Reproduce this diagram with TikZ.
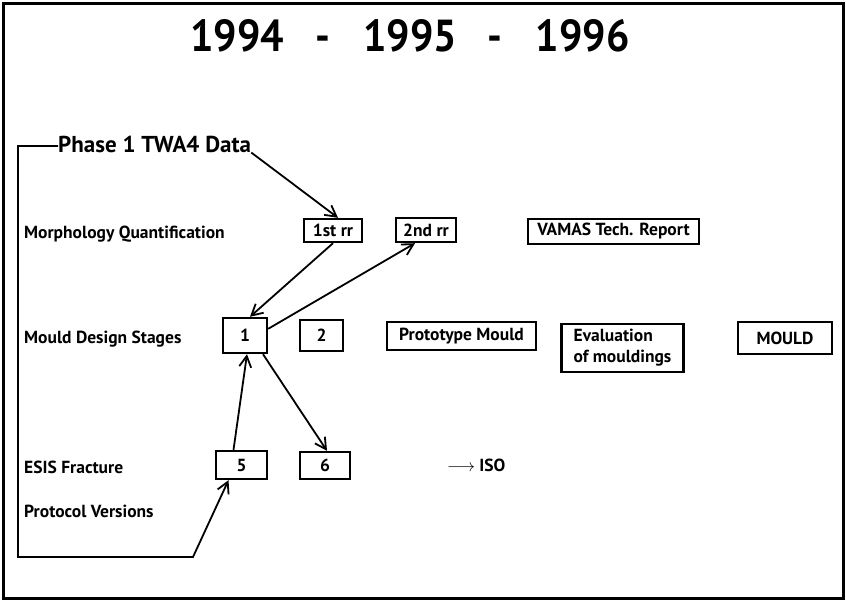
\documentclass[tikz,border=0pt]{standalone}
\usepackage{fontspec}
\setmainfont{PT Sans}
\usetikzlibrary{arrows.meta}
\tikzset{
  rowlabel/.style={anchor=base west,inner sep=0pt,font=\bfseries\fontsize{17.5}{21}\selectfont},
  stage/.style={draw,line width=2.4pt,inner sep=0pt,font=\bfseries\fontsize{17.5}{21}\selectfont},
  link/.style={-{Straight Barb[length=11pt,width=12pt,line width=1.8pt]},line width=1.8pt}
}
\begin{document}
\begin{tikzpicture}[x=1pt,y=-1pt]
\useasboundingbox (0,0) rectangle (846,602);
% outer frame
\draw[line width=3pt] (3,4) rectangle (843,598);
% heading
\node (years) at (410,36) {\resizebox{439pt}{32pt}{\bfseries 1994\hspace{0.75em}-\hspace{0.8em}1995\hspace{0.75em}-\hspace{0.8em}1996}};
% row labels
\node[rowlabel,font=\bfseries\fontsize{23}{26}\selectfont] (phase) at (58,152) {Phase 1 TWA4 Data};
\node[rowlabel] (morph) at (24,238) {Morphology Quantification};
\node[rowlabel] (design) at (24,343) {Mould Design Stages};
\node[rowlabel] (esis) at (24,473) {ESIS Fracture};
\node[rowlabel] (proto) at (24,517) {Protocol Versions};
% morphology row
\node[stage,minimum width=58,minimum height=23] (rrone) at (333,230.5) {1st rr};
\node[stage,minimum width=60,minimum height=24] (rrtwo) at (426,230) {2nd rr};
\node[stage,minimum width=171,minimum height=25] (vamas) at (613.5,231.5) {VAMAS Tech. Report};
% mould design row
\node[stage,minimum width=44,minimum height=35] (one) at (245,335.5) {1};
\node[stage,minimum width=43,minimum height=31] (two) at (321.5,335.5) {2};
\node[stage,minimum width=149,minimum height=28] (protomould) at (461.5,336) {Prototype Mould};
\node[stage,minimum width=121,minimum height=48,align=left,inner xsep=12pt] (evalm) at (622.5,348) {Evaluation\\of mouldings};
\node[stage,minimum width=94,minimum height=32] (mould) at (785,338) {MOULD};
% fracture row
\node[stage,minimum width=51,minimum height=28] (five) at (241.5,465) {5};
\node[stage,minimum width=50,minimum height=27] (six) at (325,465.5) {6};
\node[rowlabel] (iso) at (447,471) {$\longrightarrow$ ISO};
% connectors
\coordinate (topcorner) at (18,146);
\coordinate (lowcorner) at (193,557);
\draw[link] (phase.south east) -- ([xshift=5]rrone.north);
\draw[link] (rrone.south) -- ([xshift=5]one.north);
\draw[link] (one.north east) ++(0,12) -- ([xshift=-11]rrtwo.south);
\draw[link] ([xshift=18]one.south) -- ([xshift=2]six.north);
\draw[link] ([xshift=-8]five.north) -- ([xshift=2]one.south);
\draw[link] ([yshift=6]phase.base west) -- (topcorner) |- (lowcorner) -- ([xshift=-13]five.south);
\end{tikzpicture}
\end{document}
